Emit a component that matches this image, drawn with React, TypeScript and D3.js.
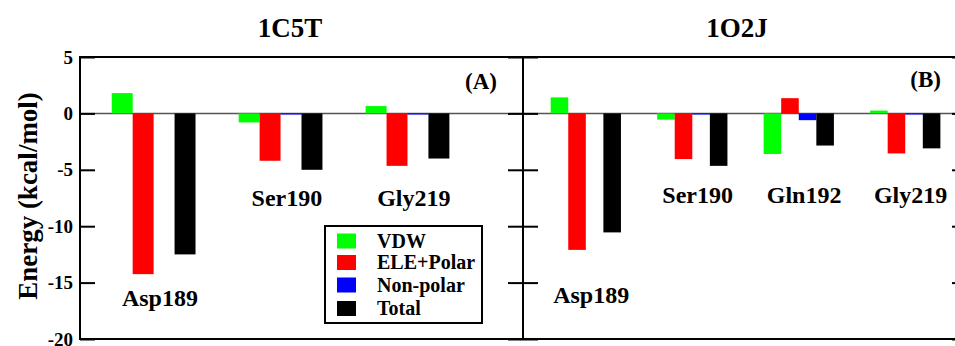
import React, { useEffect, useRef } from 'react';
import * as d3 from 'd3';

// series
const seriesNames = ['VDW', 'ELE+Polar', 'Non-polar', 'Total'];
const seriesColors = ['#00ff00', '#ff0000', '#0000ff', '#000000'];

// panel A: 1C5T
const residuesA = ['Asp189', 'Ser190', 'Gly219'];
const vdwA = [1.8, -0.8, 0.65];
const eleA = [-14.25, -4.2, -4.65];
const nonpolarA = [0, -0.1, -0.1];
const totalA = [-12.5, -5.0, -4.0];

// panel B: 1O2J
const residuesB = ['Asp189', 'Ser190', 'Gln192', 'Gly219'];
const vdwB = [1.42, -0.55, -3.6, 0.25];
const eleB = [-12.1, -4.05, 1.35, -3.55];
const nonpolarB = [0, -0.1, -0.6, -0.1];
const totalB = [-10.55, -4.65, -2.85, -3.1];

const yTicks = [5, 0, -5, -10, -15, -20];

const W = 955;
const H = 346;
const FONT = 'Liberation Serif, DejaVu Serif, serif';

const App = () => {
    const svgRef = useRef<SVGSVGElement>(null);

    useEffect(() => {
        const svg = d3.select(svgRef.current);
        svg.selectAll('*').remove();

        const top = 57;
        const bottom = 339;
        const y = d3.scaleLinear().domain([-20, 5]).range([bottom, top]);

        const panels = [
            {
                title: '1C5T', tag: '(A)', titleX: 290, tagX: 497, tagY: 89,
                residues: residuesA, values: [vdwA, eleA, nonpolarA, totalA],
                x: d3.scaleLinear().domain([0.42, 3.91]).range([80, 523]),
                labelY: [-17.1, -8.2, -8.2, -8.2],
            },
            {
                title: '1O2J', tag: '(B)', titleX: 737, tagX: 941, tagY: 87,
                residues: residuesB, values: [vdwB, eleB, nonpolarB, totalB],
                x: d3.scaleLinear().domain([0.41, 4.58]).range([523, 967]),
                labelY: [-16.85, -7.9, -7.9, -7.9],
            },
        ];

        const sub = d3.scaleBand<string>().domain(seriesNames).range([-0.33, 0.33]).padding(0);

        // zero line
        svg.append('line')
            .attr('x1', 80).attr('x2', 967)
            .attr('y1', y(0)).attr('y2', y(0))
            .attr('stroke', '#555').attr('stroke-width', 1.5);

        panels.forEach((p, pi) => {
            const [x0, x1] = p.x.range();
            const g = svg.append('g');

            // bars
            p.values.forEach((vals, si) => {
                g.append('g')
                    .selectAll('rect')
                    .data(vals)
                    .join('rect')
                    .attr('x', (d, i) => p.x(i + 1 + (sub(seriesNames[si]) as number)))
                    .attr('width', (d, i) => {
                        const s = i + 1 + (sub(seriesNames[si]) as number);
                        return p.x(s + sub.bandwidth()) - p.x(s);
                    })
                    .attr('y', d => y(Math.max(0, d)))
                    .attr('height', d => Math.abs(y(d) - y(0)))
                    .attr('fill', seriesColors[si]);
            });

            // residue labels
            g.append('g')
                .selectAll('text')
                .data(p.residues)
                .join('text')
                .attr('x', (d, i) => p.x(i + 1.05))
                .attr('y', (d, i) => y(p.labelY[i]))
                .attr('text-anchor', 'middle')
                .style('font-family', FONT)
                .attr('font-weight', 'bold')
                .attr('font-size', 24)
                .text(d => d);

            // left / right axes with inward ticks
            const left = g.append('g')
                .attr('transform', `translate(${x0},0)`)
                .call(d3.axisLeft(y).tickValues(yTicks).tickSize(-15).tickPadding(7)
                    .tickFormat(pi === 0 ? d3.format('d') : () => ''));
            left.select('.domain').remove();
            left.attr('font-family', null).attr('font-size', null);
            left.selectAll('line').attr('stroke', '#000').attr('stroke-width', 2);
            left.selectAll('text')
                .style('font-family', FONT).attr('font-weight', 'bold')
                .attr('font-size', 19).attr('fill', '#000')
                .text((d: any) => (pi === 0 ? String(d) : ''));

            const right = g.append('g')
                .attr('transform', `translate(${x1},0)`)
                .call(d3.axisRight(y).tickValues(yTicks).tickSize(-15).tickFormat(() => ''));
            right.select('.domain').remove();
            right.selectAll('line').attr('stroke', '#000').attr('stroke-width', 2);

            // frame
            g.append('rect')
                .attr('x', x0).attr('y', top)
                .attr('width', x1 - x0).attr('height', bottom - top)
                .attr('fill', 'none').attr('stroke', '#000').attr('stroke-width', 2);

            // title
            g.append('text')
                .attr('x', p.titleX).attr('y', 37)
                .attr('text-anchor', 'middle')
                .style('font-family', FONT).attr('font-weight', 'bold').attr('font-size', 27)
                .text(p.title);

            // panel tag
            g.append('text')
                .attr('x', p.tagX).attr('y', p.tagY)
                .attr('text-anchor', 'end')
                .style('font-family', FONT).attr('font-weight', 'bold').attr('font-size', 23)
                .text(p.tag);
        });

        // y axis title
        svg.append('text')
            .attr('transform', `translate(37,${196}) rotate(-90)`)
            .attr('text-anchor', 'middle')
            .style('font-family', FONT).attr('font-weight', 'bold').attr('font-size', 27)
            .text('Energy (kcal/mol)');

        // legend
        const lg = svg.append('g').attr('transform', 'translate(325,226)');
        lg.append('rect')
            .attr('width', 157).attr('height', 97)
            .attr('fill', '#fff').attr('stroke', '#000').attr('stroke-width', 2);
        const items = lg.selectAll('g.item')
            .data(seriesNames)
            .join('g')
            .attr('class', 'item')
            .attr('transform', (d, i) => `translate(0,${[7.5, 29, 51.5, 75][i]})`);
        items.append('rect')
            .attr('x', 12).attr('width', 19).attr('height', 15)
            .attr('fill', (d, i) => seriesColors[i]);
        items.append('text')
            .attr('x', 52).attr('y', 14)
            .style('font-family', FONT).attr('font-weight', 'bold').attr('font-size', 20)
            .text(d => d);
    }, []);

    return (
        <svg ref={svgRef} width={W} height={H}
            style={{ position: 'absolute', left: 0, top: 0, background: '#fff' }} />
    );
};

export default App;
